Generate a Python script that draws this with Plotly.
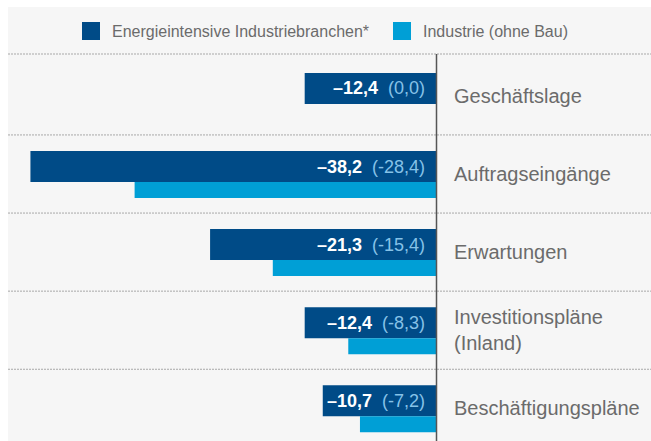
import plotly.graph_objects as go

# ---------------- data ----------------
categories = ["Geschäftslage", "Auftragseingänge", "Erwartungen",
              "Investitionspläne<br>(Inland)", "Beschäftigungspläne"]
series_names = ["Energieintensive Industriebranchen*", "Industrie (ohne Bau)"]
energy_values = [-12.4, -38.2, -21.3, -12.4, -10.7]
industry_values = [0.0, -28.4, -15.4, -8.3, -7.2]

# ---------------- style / layout constants ----------------
W, H = 651, 441
ML, MT = 8, 7                    # white margin left / top
PW, PH = W - ML, H - MT          # plot area in px
ZERO_PX = 436.5                  # x pixel of the zero line
PPU = 10.63                      # pixels per unit
BAND = 78.1                      # px per category
C0 = 95.9                        # px of first category centre

DARK = "#004b87"
LIGHT = "#009fd6"
LIGHT_TXT = "#86c2e8"
BG = "#f6f6f6"
GRID = "#a8a8a8"
AXIS = "#555555"
TXT = "#6b6b6b"
FONT = "Liberation Sans"

dark_off, dark_w = -23.0 / BAND, 31.0 / BAND
light_off, light_w = 8.0 / BAND, 16.0 / BAND

xmin = -(ZERO_PX - ML) / PPU
xmax = (W - ZERO_PX) / PPU
ytop = -(C0 - MT) / BAND
ybot = (len(categories) - 1) + (H - (C0 + (len(categories) - 1) * BAND)) / BAND


def px_x(px):
    return (px - ML) / PW


def px_y(py):
    return 1 - (py - MT) / PH


def de(v):
    return f"{v:.1f}".replace(".", ",")


def dark_fmt(v):
    return ("–" + de(abs(v))) if v < 0 else de(v)


fig = go.Figure()
fig.add_trace(go.Bar(
    y=categories, x=energy_values, orientation="h", name=series_names[0],
    marker=dict(color=DARK, line=dict(width=0)),
    offset=dark_off, width=dark_w, showlegend=False, hoverinfo="skip"))
fig.add_trace(go.Bar(
    y=categories, x=industry_values, orientation="h", name=series_names[1],
    marker=dict(color=LIGHT, line=dict(width=0)),
    offset=light_off, width=light_w, showlegend=False, hoverinfo="skip"))

shapes = []
# top separator under the legend
top_line_y = px_y(54)
shapes.append(dict(type="line", xref="paper", yref="paper", x0=0, x1=1,
                   y0=top_line_y, y1=top_line_y,
                   line=dict(color=GRID, width=1, dash="2px,1px")))
# separators between categories
for i in range(len(categories) - 1):
    shapes.append(dict(type="line", xref="paper", yref="y", x0=0, x1=1,
                       y0=i + 0.5, y1=i + 0.5,
                       line=dict(color=GRID, width=1, dash="2px,1px")))
# zero line
shapes.append(dict(type="line", xref="x", yref="paper", x0=0, x1=0,
                   y0=0, y1=top_line_y, line=dict(color=AXIS, width=1.5)))

# legend squares
legend_items = [(82, 100, 110, DARK, series_names[0]),
                (393, 411, 421, LIGHT, series_names[1])]
annotations = []
for x0, x1, tx, col, name in legend_items:
    shapes.append(dict(type="rect", xref="paper", yref="paper",
                       x0=px_x(x0), x1=px_x(x1), y0=px_y(40), y1=px_y(22),
                       fillcolor=col, line=dict(width=0)))
    annotations.append(dict(xref="paper", yref="paper", x=px_x(tx), y=px_y(31.5),
                            xanchor="left", yanchor="middle", showarrow=False,
                            text=name, font=dict(family=FONT, size=16, color=TXT)))

# category labels right of the zero line
for i, cat in enumerate(categories):
    annotations.append(dict(xref="x", yref="y", x=0, y=i, xshift=15.5,
                            xanchor="left", yanchor="middle", showarrow=False,
                            align="left", text=cat,
                            font=dict(family=FONT, size=20, color=TXT)))

# value labels inside the dark bars
for i, (e, ind) in enumerate(zip(energy_values, industry_values)):
    txt = (f"<b>{dark_fmt(e)}</b>&nbsp; "
           f"<span style='color:{LIGHT_TXT}'>({de(ind)})</span>")
    annotations.append(dict(xref="x", yref="y", x=0, y=i + dark_off + dark_w / 2,
                            xshift=-10, xanchor="right", yanchor="middle",
                            showarrow=False, text=txt,
                            font=dict(family=FONT, size=18, color="white")))

fig.update_layout(
    width=W, height=H,
    margin=dict(l=ML, r=0, t=MT, b=0, pad=0),
    paper_bgcolor="white", plot_bgcolor=BG,
    barmode="overlay",
    xaxis=dict(range=[xmin, xmax], visible=False, fixedrange=True),
    yaxis=dict(range=[ybot, ytop], visible=False, fixedrange=True,
               type="category", categoryorder="array", categoryarray=categories),
    shapes=shapes, annotations=annotations,
    font=dict(family=FONT),
)

fig.write_html(
    "out.html",
    config={"displayModeBar": False},
    post_script="document.body.style.margin='0';document.body.style.overflow='hidden';",
)
